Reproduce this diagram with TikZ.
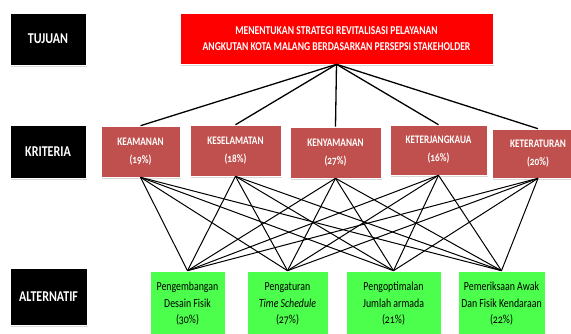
\documentclass[tikz,border=0pt]{standalone}
\usepackage{fontspec}
\setmainfont{Carlito}[FakeStretch=0.8, Numbers=OldStyle]
\usetikzlibrary{shadows}
\definecolor{critred}{RGB}{192,80,77}
\definecolor{altgreen}{RGB}{76,255,76}
\definecolor{goalred}{RGB}{255,0,0}
\begin{document}
\begin{tikzpicture}[x=1pt,y=-1pt,
  box/.style={rectangle, inner sep=0pt, align=center, draw=white, line width=0.6pt,
    drop shadow={shadow xshift=1pt, shadow yshift=-1.5pt, fill=black!30, opacity=0.5}},
  rowlab/.style={box, fill=black, text=white, minimum width=76pt, minimum height=52pt,
    font=\fontsize{15}{16}\selectfont\bfseries},
  goalbox/.style={box, fill=goalred, text=white, minimum width=313pt, minimum height=51pt,
    font=\fontsize{12}{16.5}\selectfont\bfseries},
  critbox/.style={box, fill=critred, text=white, minimum height=51pt,
    font=\fontsize{11.5}{18}\selectfont\bfseries},
  altbox/.style={box, fill=altgreen, text=black, minimum height=66pt,
    font=\fontsize{12.3}{16.5}\selectfont},
  topline/.style={line width=1.3pt, black},
  botline/.style={line width=1pt, black}
]
\useasboundingbox[fill=white] (0,0) rectangle (571,333);

% row labels
\node[rowlab] (tujuan) at (48,39) {TUJUAN};
\node[rowlab, minimum height=53pt] (kriteria) at (48,152) {KRITERIA};
\node[rowlab, minimum width=77pt, minimum height=57pt] (alternatif) at (48.5,297) {ALTERNATIF};

% goal
\node[goalbox] (goal) at (336.5,38.5) {MENENTUKAN STRATEGI REVITALISASI PELAYANAN\\ANGKUTAN KOTA MALANG BERDASARKAN PERSEPSI STAKEHOLDER};

% criteria
\node[critbox, minimum width=79pt] (c1) at (140.5,151.5) {KEAMANAN\\(19\%)};
\node[critbox, minimum width=91pt] (c2) at (235.5,150.5) {KESELAMATAN\\(18\%)};
\node[critbox, minimum width=91pt] (c3) at (335.5,152.5) {KENYAMANAN\\(27\%)};
\node[critbox, minimum width=97pt, minimum height=50pt] (c4) at (438.5,150) {KETERJANGKAUA\\(16\%)};
\node[critbox, minimum width=92pt, minimum height=49pt] (c5) at (538,153.5) {KETERATURAN\\(20\%)};

% alternatives
\node[altbox, minimum width=75pt] (a1) at (187.5,304) {Pengembangan\\Desain Fisik\\(30\%)};
\node[altbox, minimum width=81pt] (a2) at (287.5,304) {Pengaturan\\\textit{Time Schedule}\\(27\%)};
\node[altbox, minimum width=95pt] (a3) at (393.5,304) {Pengoptimalan\\Jumlah armada\\(21\%)};
\node[altbox, minimum width=87pt] (a4) at (501.5,304) {Pemeriksaan Awak\\Dan Fisik Kendaraan\\(22\%)};

% connectors
\foreach \c in {c1,c2,c3,c4,c5} {
  \draw[topline] (goal.south) -- (\c.north);
  \foreach \a in {a1,a2,a3,a4} {
    \draw[botline] (\c.south) -- (\a.north);
  }
}
\end{tikzpicture}
\end{document}
